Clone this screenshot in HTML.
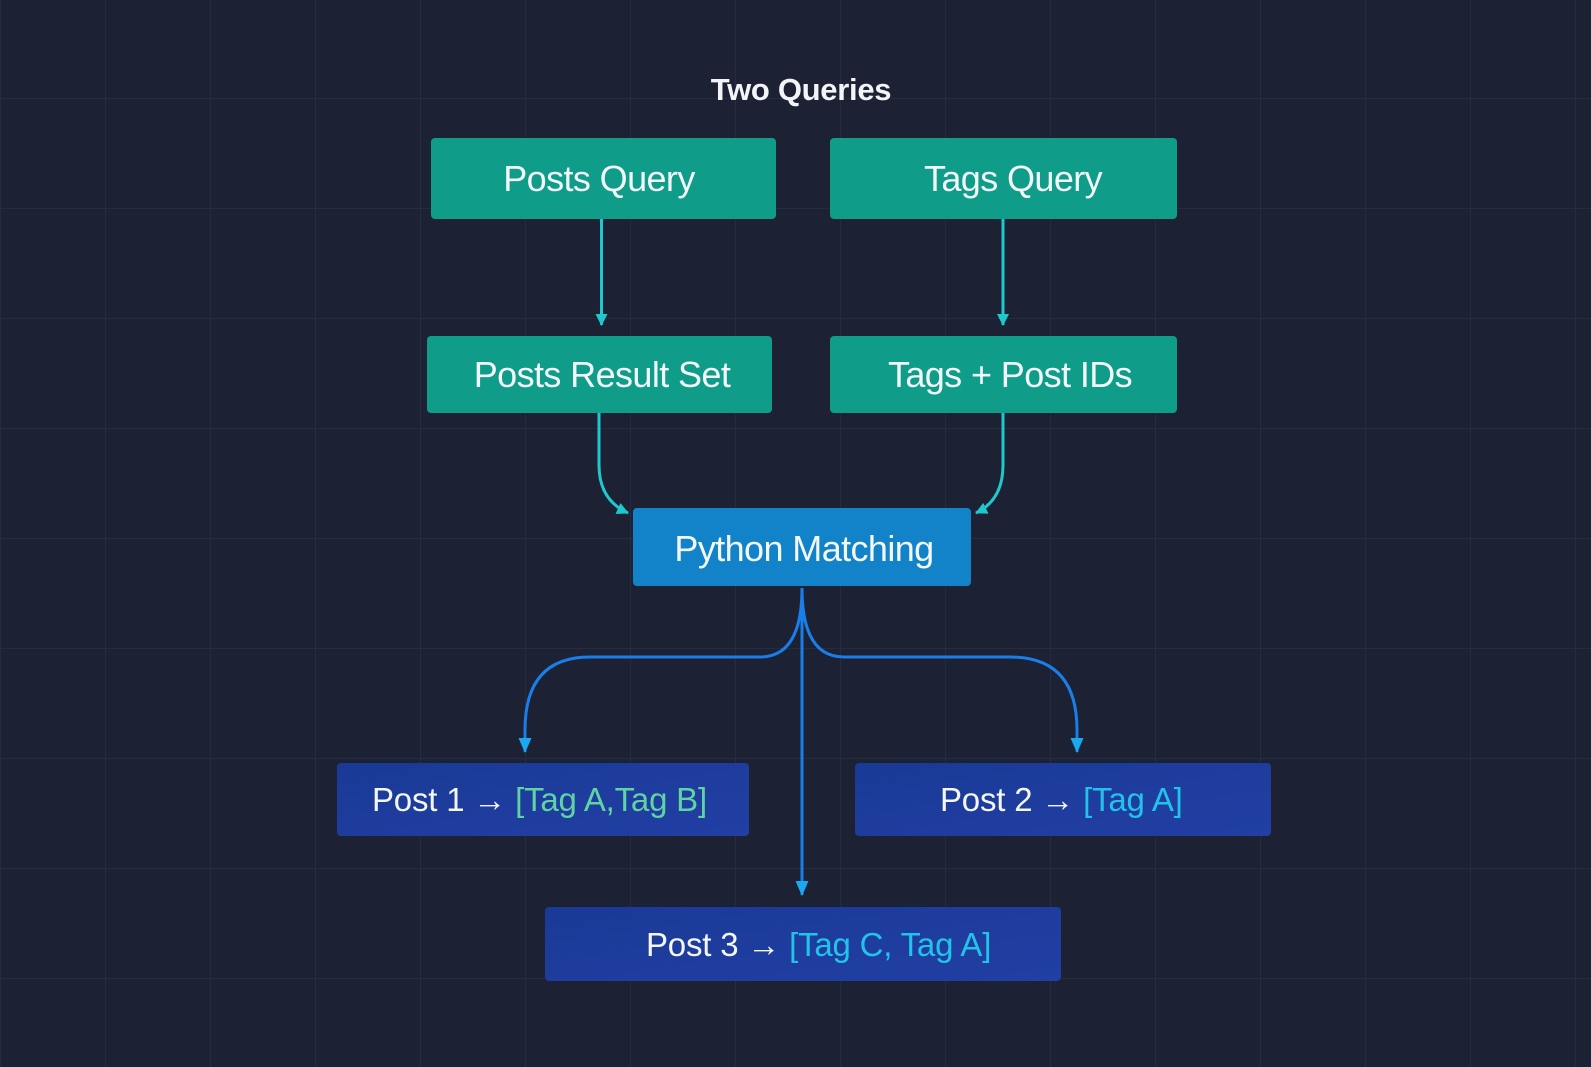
<!DOCTYPE html>
<html><head><meta charset="utf-8"><style>
html,body{margin:0;padding:0;background:#1c2233;}
svg{display:block}
text{font-family:"Liberation Sans",sans-serif;}
</style></head><body>
<svg width="1591" height="1067" viewBox="0 0 1591 1067" xmlns="http://www.w3.org/2000/svg">
<defs>
<pattern id="g" width="105" height="110" patternUnits="userSpaceOnUse" x="0" y="-12">
<path d="M0 0H105M0 0V110" stroke="#283043" stroke-width="1.5" fill="none"/>
</pattern>
<marker id="at" markerWidth="12" markerHeight="12" refX="11" refY="6" orient="auto" markerUnits="userSpaceOnUse" viewBox="0 0 12 12">
<path d="M0 0L12 6L0 12Z" fill="#1fc8cc"/></marker>
<marker id="ab" markerWidth="15" markerHeight="13" refX="14" refY="6.5" orient="auto" markerUnits="userSpaceOnUse" viewBox="0 0 15 13">
<path d="M0 0L15 6.5L0 13Z" fill="#1aa8f0"/></marker>
<linearGradient id="pb" x1="0" y1="0" x2="1" y2="1"><stop offset="0" stop-color="#1a3a96"/><stop offset="1" stop-color="#213fa4"/></linearGradient>
</defs>
<rect width="1591" height="1067" fill="#1c2233"/>
<rect width="1591" height="1067" fill="url(#g)"/>
<text x="801" y="100" font-size="31" font-weight="bold" fill="#f2f4f8" text-anchor="middle" letter-spacing="-0.3">Two Queries</text>

<rect x="431" y="138" width="345" height="81" rx="4" fill="#0f9c88"/>
<rect x="830" y="138" width="347" height="81" rx="4" fill="#0f9c88"/>
<rect x="427" y="336" width="345" height="77" rx="4" fill="#0f9c88"/>
<rect x="830" y="336" width="347" height="77" rx="4" fill="#0f9c88"/>
<rect x="633" y="508" width="338" height="78" rx="4" fill="#1283c8"/>
<rect x="337" y="763" width="412" height="73" rx="4" fill="url(#pb)"/>
<rect x="855" y="763" width="416" height="73" rx="4" fill="url(#pb)"/>
<rect x="545" y="907" width="516" height="74" rx="4" fill="url(#pb)"/>

<g fill="#f4f7fa" font-size="36" text-anchor="middle" letter-spacing="-0.6">
<text x="599" y="191">Posts Query</text>
<text x="1013" y="191">Tags Query</text>
<text x="602" y="387">Posts Result Set</text>
<text x="1010" y="387">Tags + Post IDs</text>
<text x="804" y="561">Python Matching</text>
</g>
<g font-size="33" letter-spacing="-0.2">
<text x="372" y="811" fill="#f4f7fa">Post 1 <tspan font-weight="bold">→</tspan> <tspan fill="#5fd3a3">[Tag A,Tag B]</tspan></text>
<text x="940" y="811" fill="#f4f7fa">Post 2 <tspan font-weight="bold">→</tspan> <tspan fill="#22c3e8">[Tag A]</tspan></text>
<text x="646" y="956" fill="#f4f7fa">Post 3 <tspan font-weight="bold">→</tspan> <tspan fill="#22c3e8">[Tag C, Tag A]</tspan></text>
</g>

<g stroke="#1fc8cc" stroke-width="3" fill="none">
<path d="M601.5 219V325" marker-end="url(#at)"/>
<path d="M1003 219V325" marker-end="url(#at)"/>
<path d="M599 413V465Q599 500 628 513" marker-end="url(#at)"/>
<path d="M1003 413V465Q1003 500 976 513" marker-end="url(#at)"/>
</g>
<g stroke="#1a7ee8" stroke-width="3" fill="none">
<path d="M802 588V895" marker-end="url(#ab)"/>
<path d="M802 588Q802 657 760 657H590Q525 657 525 730V752" marker-end="url(#ab)"/>
<path d="M802 588Q802 657 844 657H1010Q1077 657 1077 730V752" marker-end="url(#ab)"/>
</g>
</svg>
</body></html>
